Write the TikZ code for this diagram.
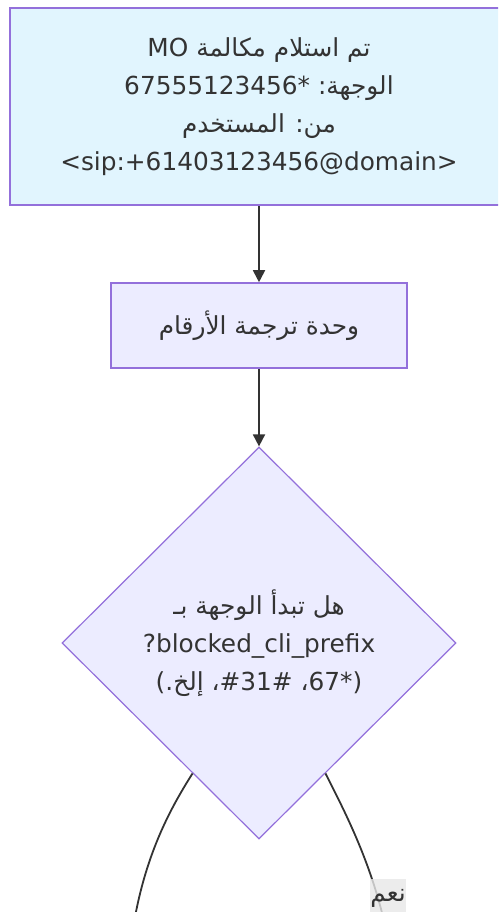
\documentclass[tikz,border=0pt]{standalone}
\usepackage{fontspec}
\setmainfont{DejaVu Sans}
\newfontfamily\arabicfont[Script=Arabic]{DejaVu Sans}
\TeXXeTstate=1
\usetikzlibrary{arrows.meta,shapes.geometric}
\newcommand{\AR}[1]{{\arabicfont\beginR #1\endR}}
\definecolor{startfill}{HTML}{E1F5FE}
\definecolor{nodefill}{HTML}{ECECFF}
\definecolor{nodeborder}{HTML}{9370DB}
\definecolor{ink}{HTML}{333333}
\definecolor{labelbg}{HTML}{E8E8E8}
\tikzset{
  base/.style={draw=nodeborder, line width=1.6pt, text=ink, align=center, inner sep=0pt,
    font=\fontsize{24.8pt}{38pt}\selectfont},
  startbox/.style={base, rectangle, fill=startfill, minimum width=498pt, minimum height=197pt},
  procbox/.style={base, rectangle, fill=nodefill, minimum width=296pt, minimum height=85pt},
  decision/.style={base, diamond, fill=nodefill, line width=1.2pt, minimum width=394pt, minimum height=392pt},
  flow/.style={draw=ink, line width=1.8pt, -{Triangle[length=12pt,width=12pt]}},
  curveedge/.style={draw=ink, line width=1.8pt},
  edgelabel/.style={fill=labelbg, fill opacity=0.8, text opacity=1, text=ink, inner sep=0pt,
    minimum width=36pt, minimum height=38pt, font=\fontsize{24.8pt}{38pt}\selectfont}
}
\begin{document}
\begin{tikzpicture}[x=1pt,y=-1pt]
\useasboundingbox (0,0) rectangle (498,912);
\clip (0,0) rectangle (498,912);
\fill[white] (0,0) rectangle (498,912);

\node[startbox] (recv) at (259,106.5) {%
  MO \AR{تم استلام مكالمة}\\
  67555123456* \AR{الوجهة:}\\
  \AR{من: المستخدم}\\
  <sip:+61403123456@domain>};

\node[procbox] (xlate) at (259,325.5) {\AR{وحدة ترجمة الأرقام}};

\node[decision] (check) at (259,643) {%
  \AR{هل تبدأ الوجهة بـ}\\
  ?blocked\_cli\_prefix\\
  (.\AR{إلخ} ،\#31\# ،67*)};

\draw[flow] (recv.south) -- (xlate.north);
\draw[flow] (xlate.south) -- (check.north);

\coordinate (noend) at (132,935);
\coordinate (yesend) at (385,925);
\draw[curveedge] (check.243) .. controls (168,812) and (143,860) .. (noend);
\draw[curveedge] (check.297) .. controls (345,812) and (370,860) .. (yesend);

\node[edgelabel, anchor=north] (yeslbl) at (388,879) {\AR{نعم}};
\end{tikzpicture}
\end{document}
